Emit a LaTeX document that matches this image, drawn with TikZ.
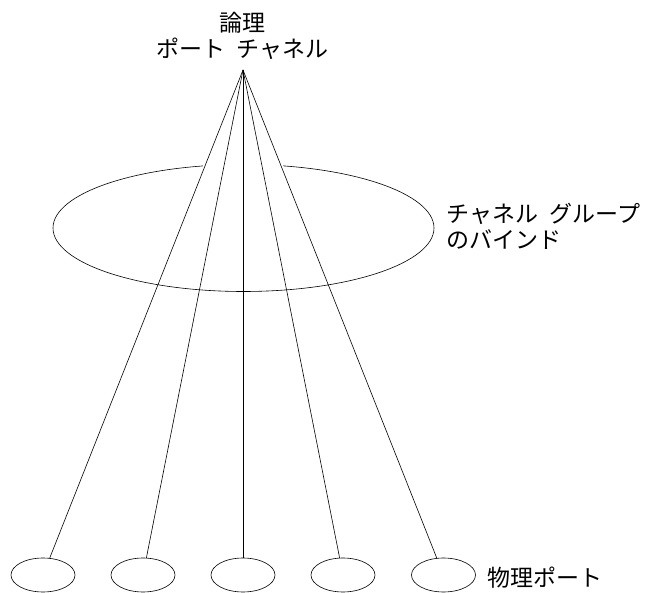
\documentclass[tikz,border=0pt]{standalone}
\usepackage{fontspec}
\newfontfamily\jp{Noto Sans CJK JP}
\usetikzlibrary{shapes.geometric,calc}
\newcommand{\jsp}{\hspace{0.5em}}
\begin{document}
\begin{tikzpicture}[x=1pt,y=-1pt,line width=0.6pt,
  port/.style={ellipse,draw,minimum width=64pt,minimum height=34pt,inner sep=0pt,outer sep=0pt},
  bindshape/.style={ellipse,draw,minimum width=381pt,minimum height=127pt,inner sep=0pt,outer sep=0pt},
  lbl/.style={font=\jp\fontsize{23}{26}\selectfont,inner sep=0pt,text=black},
  wire/.style={draw,line width=0.6pt}]
\useasboundingbox (0,0) rectangle (648,593);
% channel group ellipse
\node[bindshape] (bind) at (243.5,228) {};
% physical ports
\node[port] (p1) at (43,575) {};
\node[port] (p2) at (143,575) {};
\node[port] (p3) at (243,575) {};
\node[port] (p4) at (343,575) {};
\node[port] (p5) at (443.5,575) {};
\coordinate (apex) at (243,70);
% hide back of the ellipse behind the fan
\fill[white] ($(apex)+(0,-2)$) -- ($($(apex)!0.33!(p1)$)+(-3,0)$) -- ($($(apex)!0.33!(p5)$)+(3,0)$) -- cycle;
% wires
\foreach \i in {1,...,5} \path[wire] (apex) -- (p\i);
% labels
\node[lbl,align=center,font=\jp\fontsize{23}{25.5}\selectfont] (lp) at (242.5,36) {論理\\ポート\jsp チャネル};
\node[lbl,align=left,anchor=west] (lg) at (446,226) {チャネル\jsp グループ\\のバインド};
\node[lbl,anchor=west] (lphy) at (487,578) {物理ポート};
\end{tikzpicture}
\end{document}
